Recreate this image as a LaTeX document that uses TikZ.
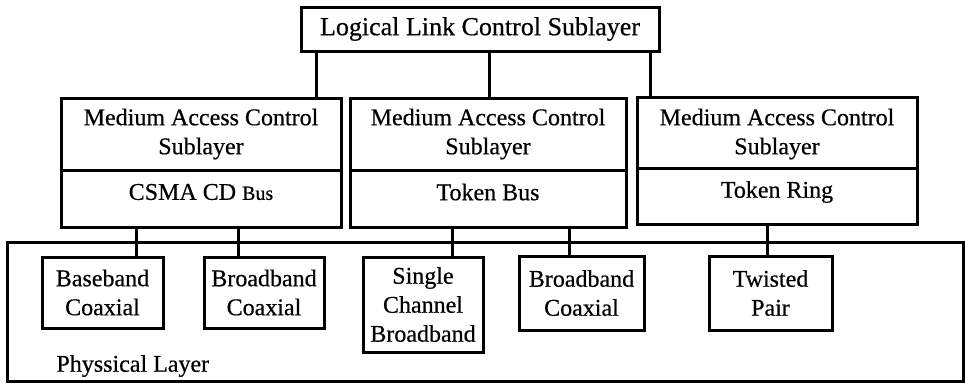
\documentclass[tikz,border=0pt]{standalone}
\usepackage{fontspec}
\setmainfont{Liberation Serif}[FakeBold=0.5]
\begin{document}
\begin{tikzpicture}[x=1pt,y=-1pt,
  line width=3pt,
  box/.style={draw, rectangle, inner sep=0pt, minimum width=#1},
  lbl/.style={inner sep=0pt, align=center, font=\fontsize{24}{29}\selectfont},
  link/.style={draw, line width=3pt}]
\useasboundingbox (0,0) rectangle (965,384);

% physical layer frame
\node[box=956, minimum height=139] (phys) at (485,311.5) {};
\node[lbl, anchor=west] (physlbl) at (55,366) {Physsical Layer};

% logical link control
\node[box=358, minimum height=44, lbl, font=\fontsize{26}{30}\selectfont] (llc) at (480,29) {Logical Link Control Sublayer};

% MAC sublayers: upper and lower halves
\node[box=280, minimum height=72] (mac1t) at (201,134) {};
\node[box=280, minimum height=57] (mac1b) at (201,198.5) {};
\node[box=276, minimum height=72] (mac2t) at (488,134) {};
\node[box=276, minimum height=57] (mac2b) at (488,198.5) {};
\node[box=280, minimum height=71] (mac3t) at (777,132.5) {};
\node[box=280, minimum height=56] (mac3b) at (777,196) {};

\node[lbl] (mac1txt) at (201,134) {Medium Access Control\\Sublayer};
\node[lbl] (mac2txt) at (488,134) {Medium Access Control\\Sublayer};
\node[lbl] (mac3txt) at (777,134) {Medium Access Control\\Sublayer};
\node[lbl] (csma) at (201,192) {CSMA CD {\fontsize{20}{24}\selectfont Bus}};
\node[lbl] (tbus) at (488,192) {Token Bus};
\node[lbl] (tring) at (777,192) {Token Ring};

% physical media
\node[box=121, minimum height=71, lbl] (bc1) at (102.5,292.5) {Baseband\\Coaxial};
\node[box=120, minimum height=71, lbl] (bb1) at (264,292.5) {Broadband\\Coaxial};
\node[box=120, minimum height=95, lbl] (scb) at (423,304.5) {Single\\Channel\\Broadband};
\node[box=125, minimum height=74, lbl] (bb2) at (581.5,293) {Broadband\\Coaxial};
\node[box=123, minimum height=74, lbl] (tp) at (770.5,293) {Twisted\\Pair};

% connectors
\draw[link] (llc.south -| 316,0) -- (mac1t.north -| 316,0);
\draw[link] (llc.south -| 489,0) -- (mac2t.north -| 489,0);
\draw[link] (llc.south -| 650,0) -- (mac3t.north -| 650,0);
\draw[link] (mac1b.south -| 136,0) -- (bc1.north -| 136,0);
\draw[link] (mac1b.south -| 238,0) -- (bb1.north -| 238,0);
\draw[link] (mac2b.south -| 452,0) -- (scb.north -| 452,0);
\draw[link] (mac2b.south -| 569,0) -- (bb2.north -| 569,0);
\draw[link] (mac3b.south -| 767,0) -- (tp.north -| 767,0);
\end{tikzpicture}
\end{document}
